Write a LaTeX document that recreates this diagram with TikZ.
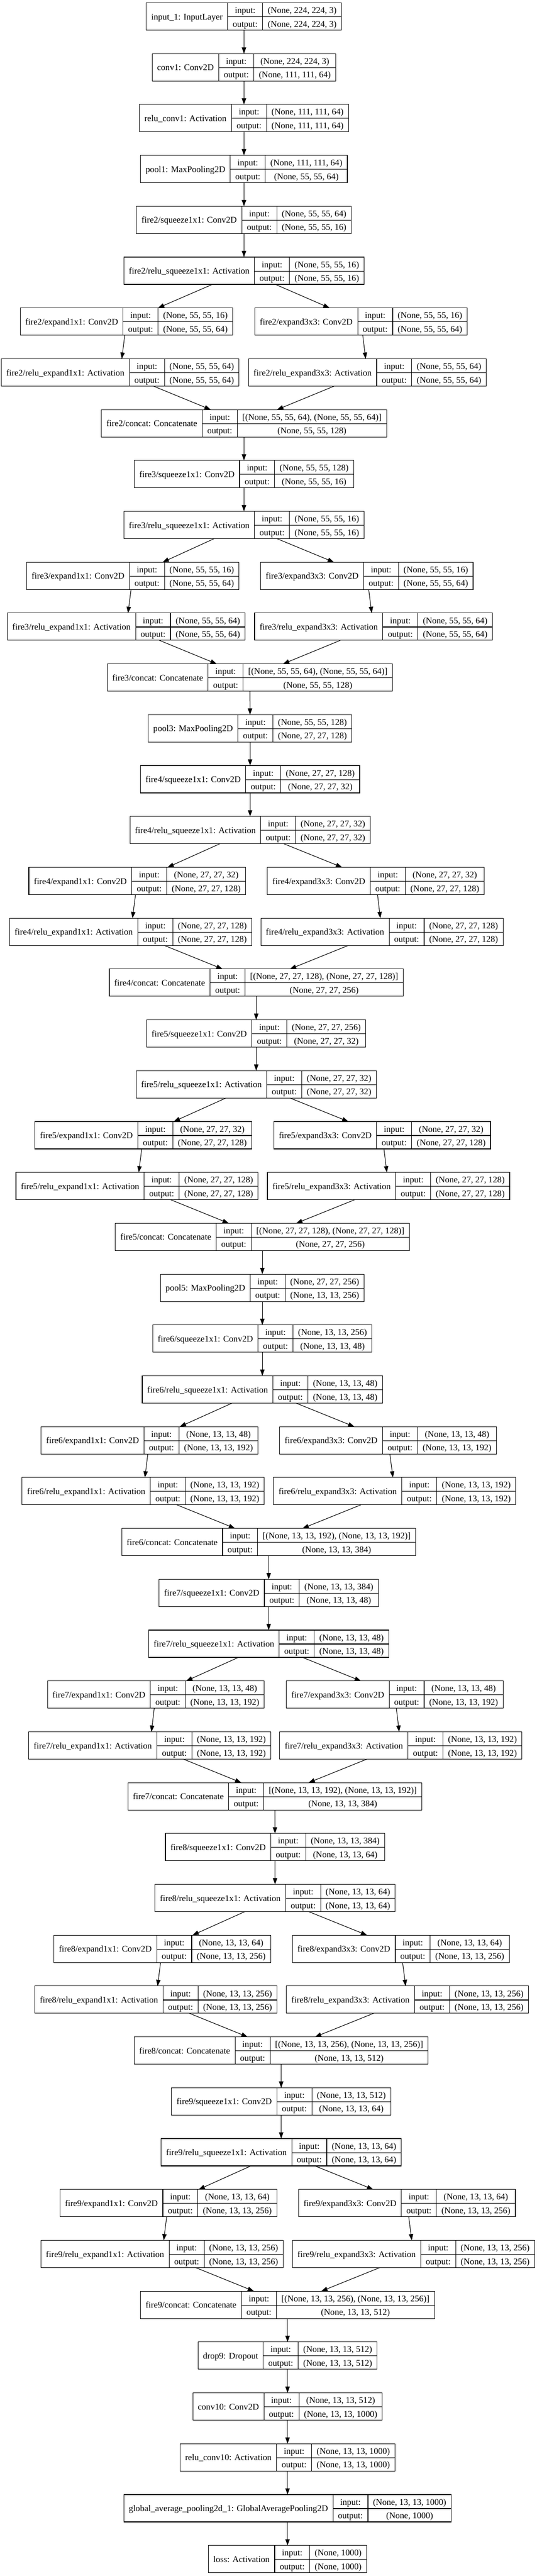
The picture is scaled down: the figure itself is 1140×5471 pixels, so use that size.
\documentclass[tikz,border=0pt]{standalone}
\usepackage{fontspec}
\setmainfont{Liberation Serif}
\usetikzlibrary{arrows.meta}
\setlength\tabcolsep{10.7pt}
\setlength\arrayrulewidth{1.2pt}
\newcommand\rowstrut{\rule[-7pt]{0pt}{29pt}}
\newcommand\recbox[3]{\begin{tabular}{c|c|c}\raisebox{-13.7pt}[0pt][0pt]{#1} & input: & #2\rowstrut\\\cline{2-3} & output: & #3\rowstrut\end{tabular}}

\begin{document}
\begin{tikzpicture}[x=1pt,y=1pt,
    lyr/.style={draw,line width=1.2pt,inner sep=0pt,outer sep=0pt,font=\fontsize{18.67}{22}\selectfont},
    link/.style={-{Triangle[length=13.3pt,width=9.3pt]},line width=1.2pt}]
      \useasboundingbox (0,0) rectangle (1140,-5471);
      \node[lyr] (in1) at (518,-35) {\recbox{input\_1: InputLayer}{(None, 224, 224, 3)}{(None, 224, 224, 3)}};
      \node[lyr] (conv1) at (518,-143) {\recbox{conv1: Conv2D}{(None, 224, 224, 3)}{(None, 111, 111, 64)}};
      \node[lyr] (rconv1) at (518,-251) {\recbox{relu\_conv1: Activation}{(None, 111, 111, 64)}{(None, 111, 111, 64)}};
      \node[lyr] (pool1) at (518,-359) {\recbox{pool1: MaxPooling2D}{(None, 111, 111, 64)}{(None, 55, 55, 64)}};

      \foreach \fn/\rw/\cx/\mx/\el/\er/\rl/\rr/\sz/\ci/\sq/\ex/\co in {
          2/4/518/518/268.5/766.5/255/780/55/64/16/64/128,
          3/9/518/530.5/282/779/268/793/55/128/16/64/128,
          4/15/531/544/291.5/798/277.5/811/27/128/32/128/256,
          5/20/544/557/304.5/811.5/291/825/27/256/32/128/256,
          6/26/557/570.5/317.5/824/304/838/13/256/48/192/384,
          7/31/570.5/583.5/331/838/318/851/13/384/48/192/384,
          8/36/584/597/344.5/851/331/865/13/384/64/256/512,
          9/41/597/610.5/357.5/864/344/878/13/512/64/256/512} {
        \node[lyr] (sq\fn) at (\cx,{-35-108*\rw}) {\recbox{fire\fn/squeeze1x1: Conv2D}{(None, \sz, \sz, \ci)}{(None, \sz, \sz, \sq)}};
        \node[lyr] (rsq\fn) at (\cx,{-143-108*\rw}) {\recbox{fire\fn/relu\_squeeze1x1: Activation}{(None, \sz, \sz, \sq)}{(None, \sz, \sz, \sq)}};
        \node[lyr] (ea\fn) at (\el,{-251-108*\rw}) {\recbox{fire\fn/expand1x1: Conv2D}{(None, \sz, \sz, \sq)}{(None, \sz, \sz, \ex)}};
        \node[lyr] (eb\fn) at (\er,{-251-108*\rw}) {\recbox{fire\fn/expand3x3: Conv2D}{(None, \sz, \sz, \sq)}{(None, \sz, \sz, \ex)}};
        \node[lyr] (ra\fn) at (\rl,{-359-108*\rw}) {\recbox{fire\fn/relu\_expand1x1: Activation}{(None, \sz, \sz, \ex)}{(None, \sz, \sz, \ex)}};
        \node[lyr] (rb\fn) at (\rr,{-359-108*\rw}) {\recbox{fire\fn/relu\_expand3x3: Activation}{(None, \sz, \sz, \ex)}{(None, \sz, \sz, \ex)}};
        \node[lyr] (cat\fn) at (\mx,{-467-108*\rw}) {\recbox{fire\fn/concat: Concatenate}{[(None, \sz, \sz, \ex), (None, \sz, \sz, \ex)]}{(None, \sz, \sz, \co)}};
        \draw[link] (sq\fn) -- (rsq\fn);
        \draw[link] (rsq\fn) -- (ea\fn);
        \draw[link] (rsq\fn) -- (eb\fn);
        \draw[link] (ea\fn) -- (ra\fn);
        \draw[link] (eb\fn) -- (rb\fn);
        \draw[link] (ra\fn) -- (cat\fn);
        \draw[link] (rb\fn) -- (cat\fn);
      }

      \node[lyr] (pool3) at (531,-1547) {\recbox{pool3: MaxPooling2D}{(None, 55, 55, 128)}{(None, 27, 27, 128)}};
      \node[lyr] (pool5) at (557,-2735) {\recbox{pool5: MaxPooling2D}{(None, 27, 27, 256)}{(None, 13, 13, 256)}};
      \node[lyr] (drop9) at (610.5,-5003) {\recbox{drop9: Dropout}{(None, 13, 13, 512)}{(None, 13, 13, 512)}};
      \node[lyr] (conv10) at (610.5,-5111) {\recbox{conv10: Conv2D}{(None, 13, 13, 512)}{(None, 13, 13, 1000)}};
      \node[lyr] (rconv10) at (610.5,-5219) {\recbox{relu\_conv10: Activation}{(None, 13, 13, 1000)}{(None, 13, 13, 1000)}};
      \node[lyr] (gap) at (610.5,-5327) {\recbox{global\_average\_pooling2d\_1: GlobalAveragePooling2D}{(None, 13, 13, 1000)}{(None, 1000)}};
      \node[lyr] (loss) at (610.5,-5435) {\recbox{loss: Activation}{(None, 1000)}{(None, 1000)}};

      \draw[link] (in1) -- (conv1);
      \draw[link] (conv1) -- (rconv1);
      \draw[link] (rconv1) -- (pool1);
      \draw[link] (pool1) -- (sq2);
      \draw[link] (cat2) -- (sq3);
      \draw[link] (cat3) -- (pool3);
      \draw[link] (pool3) -- (sq4);
      \draw[link] (cat4) -- (sq5);
      \draw[link] (cat5) -- (pool5);
      \draw[link] (pool5) -- (sq6);
      \draw[link] (cat6) -- (sq7);
      \draw[link] (cat7) -- (sq8);
      \draw[link] (cat8) -- (sq9);
      \draw[link] (cat9) -- (drop9);
      \draw[link] (drop9) -- (conv10);
      \draw[link] (conv10) -- (rconv10);
      \draw[link] (rconv10) -- (gap);
      \draw[link] (gap) -- (loss);
    \end{tikzpicture}
\end{document}
